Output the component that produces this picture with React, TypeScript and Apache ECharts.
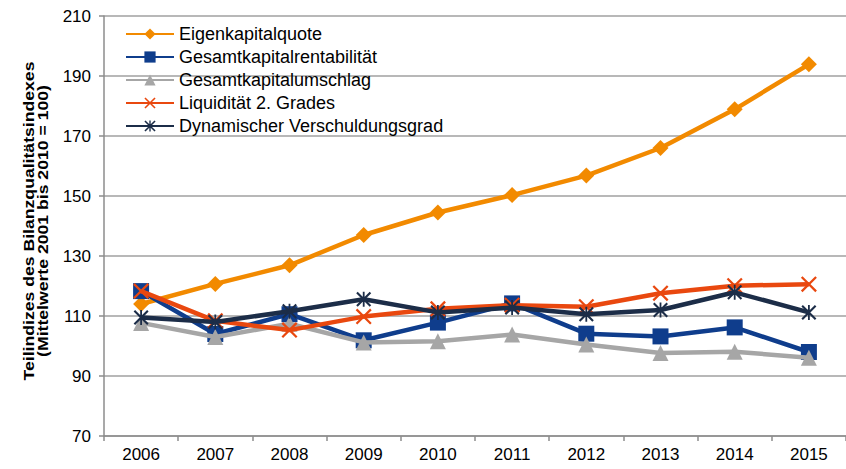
import React, { useEffect, useRef } from "react";
import * as echarts from "echarts";

const years = ["2006", "2007", "2008", "2009", "2010", "2011", "2012", "2013", "2014", "2015"];
const eigenkapitalquote = [114, 120.7, 126.9, 137, 144.5, 150.3, 156.8, 166, 178.9, 193.9];
const gesamtkapitalrentabilitaet = [118.3, 104, 110.6, 101.9, 107.8, 114.2, 104.1, 103.2, 106.2, 98];
const gesamtkapitalumschlag = [107.7, 103, 107.4, 101.2, 101.6, 103.8, 100.5, 97.7, 98.1, 96.1];
const liquiditaet = [118.3, 108.4, 105.3, 109.8, 112.4, 113.6, 113.1, 117.6, 120.1, 120.6];
const verschuldungsgrad = [109.5, 108, 111.6, 115.6, 111.2, 112.8, 110.6, 112, 117.9, 111.2];

const seriesNames = [
  "Eigenkapitalquote",
  "Gesamtkapitalrentabilität",
  "Gesamtkapitalumschlag",
  "Liquidität 2. Grades",
  "Dynamischer Verschuldungsgrad",
];

const yAxisTitle = "Teilindizes des Bilanzqualitätsindexes\n(Mittelwerte 2001 bis 2010 = 100)";

const colors = ["#F28A00", "#0F3D8C", "#A6A6A6", "#E9480F", "#1C2D48"];

const crossPath = "path://M0,1L1,0L10,9L9,10Z M9,0L10,1L1,10L0,9Z";
const starPath = "path://M0,1L1,0L10,9L9,10Z M9,0L10,1L1,10L0,9Z M4.4,0L5.6,0L5.6,10L4.4,10Z";

const FONT = "Liberation Sans, Arial, sans-serif";

export default function App() {
  const ref = useRef<HTMLDivElement>(null);
  useEffect(() => {
    document.body.style.margin = "0";
    if (!ref.current) return;
    const chart = echarts.init(ref.current, null, { renderer: "svg" });
    const dataSets = [eigenkapitalquote, gesamtkapitalrentabilitaet, gesamtkapitalumschlag, liquiditaet, verschuldungsgrad];
    const symbols = ["diamond", "rect", "triangle", crossPath, starPath];
    const sizes = [16, 16, 16, 16, 15];
    chart.setOption({
      animation: false,
      textStyle: { fontFamily: FONT },
      grid: { left: 104, top: 16, height: 420, width: 755, containLabel: false },
      legend: {
        orient: "vertical",
        left: 120,
        top: 20,
        itemWidth: 48,
        itemHeight: 14,
        itemGap: 5,
        textStyle: { fontSize: 18, color: "#000", lineHeight: 18, fontFamily: FONT },
        data: seriesNames,
      },
      graphic: [
        {
          type: "text",
          x: 36,
          y: 221,
          rotation: Math.PI / 2,
          scaleX: 1.26,
          z: 100,
          style: {
            text: yAxisTitle,
            font: "bold 14px Liberation Sans, Arial, sans-serif",
            fill: "#000",
            align: "center",
            verticalAlign: "middle",
            lineHeight: 14,
          },
        },
      ],
      xAxis: {
        type: "category",
        data: years,
        boundaryGap: true,
        axisLine: { lineStyle: { color: "#8C8C8C", width: 1.5 } },
        axisTick: { show: true, length: 5, inside: false, lineStyle: { color: "#8C8C8C", width: 1.5 } },
        axisLabel: { fontSize: 17, color: "#000", margin: 10 },
      },
      yAxis: {
        type: "value",
        min: 70,
        max: 210,
        interval: 20,
        axisLine: { show: true, lineStyle: { color: "#8C8C8C", width: 1.5 } },
        axisTick: { show: true, length: 5, lineStyle: { color: "#8C8C8C", width: 1.5 } },
        axisLabel: { fontSize: 17, color: "#000", margin: 13 },
        splitLine: { show: true, lineStyle: { color: "#A0A0A0", width: 1.5 } },
      },
      series: seriesNames.map((name, i) => ({
        name,
        type: "line",
        data: dataSets[i],
        symbol: symbols[i],
        symbolSize: sizes[i],
        showAllSymbol: true,
        lineStyle: { color: colors[i], width: 4.5 },
        itemStyle: { color: colors[i] },
        z: 2 + i,
      })),
    });
    return () => chart.dispose();
  }, []);
  return <div ref={ref} style={{ width: 846, height: 469 }} />;
}
